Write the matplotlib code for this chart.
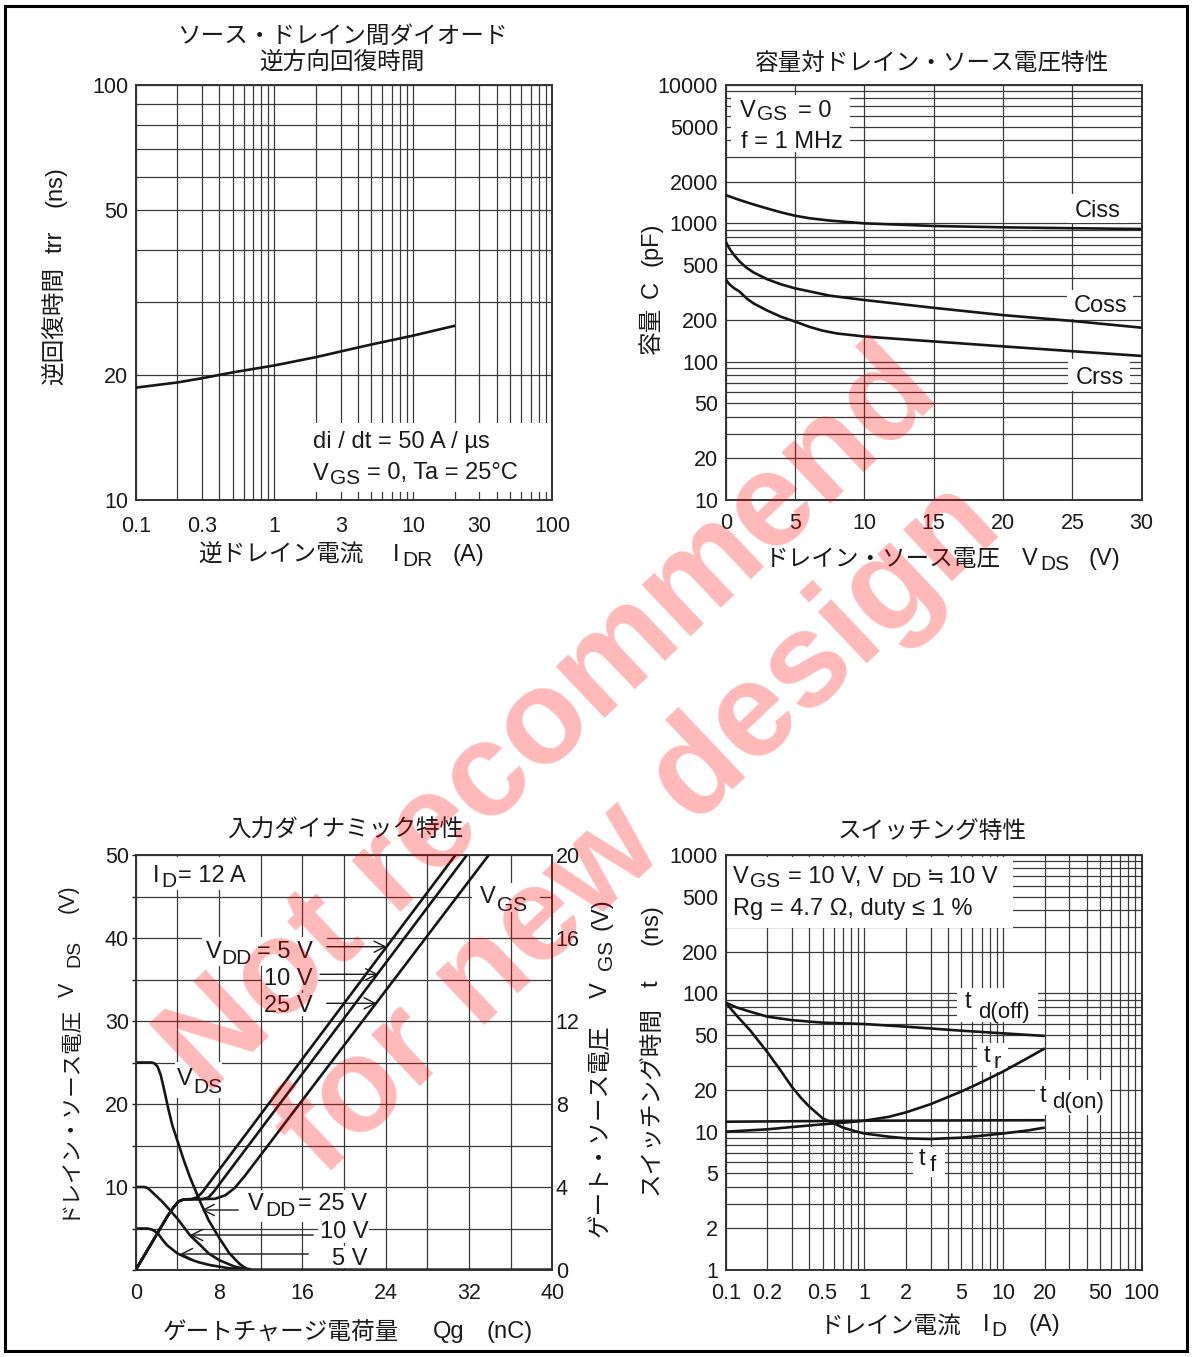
import numpy as np
import matplotlib
matplotlib.use('Agg')
import matplotlib.pyplot as plt
from matplotlib.patches import Rectangle
from matplotlib.ticker import NullFormatter

W, H = 1192, 1357
LAT = ['Liberation Sans', 'Noto Sans CJK JP', 'DejaVu Sans']
JP = ['Noto Sans CJK JP', 'DejaVu Sans']
plt.rcParams['font.family'] = LAT

# ---------------- data ----------------
# (1) reverse recovery time vs reverse drain current
idr = [0.1, 0.2, 0.3, 0.5, 1, 2, 3, 5, 10, 20]
trr = [18.65, 19.2, 19.65, 20.3, 21.1, 22.1, 22.8, 23.7, 24.9, 26.3]
p1_xticks = [0.1, 0.3, 1, 3, 10, 30, 100]
p1_xlabels = ['0.1', '0.3', '1', '3', '10', '30', '100']
p1_yticks = [10, 20, 50, 100]
p1_ylabels = ['10', '20', '50', '100']
p1_ygrid = [30, 40, 60, 70, 80, 90]

# (2) capacitance vs drain-source voltage
v_ciss = [0, 1, 2, 3, 4, 5, 6, 7.5, 10, 15, 20, 25, 30]
ciss = [1600, 1475, 1370, 1280, 1200, 1135, 1090, 1047, 1000, 957, 936, 922, 910]
v_coss = [0, 0.15, 0.3, 0.6, 1, 1.5, 2, 3, 4, 5, 7.5, 10, 15, 20, 25, 30]
coss = [740, 690, 650, 590, 530, 478, 442, 394, 362, 339, 300, 279, 245, 217, 197, 176]
v_crss = [0, 0.15, 0.3, 0.6, 1, 1.5, 2, 3, 4, 5, 6, 7, 8, 9, 10, 15, 20, 25, 30]
crss = [395, 375, 360, 340, 321, 287, 264, 234, 211, 195, 179, 167.5, 160, 156, 152, 140, 129, 119, 110]
p2_xticks = [0, 5, 10, 15, 20, 25, 30]
p2_yticks = [10, 20, 50, 100, 200, 500, 1000, 2000, 5000, 10000]
p2_ylabels = ['10', '20', '50', '100', '200', '500', '1000', '2000', '5000', '10000']

# (3) dynamic input characteristics
qg_vgs5 = [0, 2, 3, 3.6, 4.1, 4.6, 5.4, 5.9, 6.4, 30.7]
vgs5 = [0, 1.7, 2.55, 3.0, 3.3, 3.4, 3.42, 3.5, 3.75, 20]
qg_vgs10 = [0, 2, 3, 3.6, 4.1, 4.6, 6.5, 7.0, 7.5, 31.8]
vgs10 = [0, 1.7, 2.55, 3.0, 3.3, 3.4, 3.42, 3.5, 3.78, 20]
qg_vgs25 = [0, 2, 3, 3.6, 4.1, 4.6, 7.6, 8.6, 9.5, 10.5, 33.9]
vgs25 = [0, 1.7, 2.55, 3.0, 3.3, 3.4, 3.43, 3.6, 3.95, 4.55, 20]
qg_vds25 = [0, 1.5, 1.8, 2.1, 2.4, 2.7, 3.1, 3.5, 4.0, 4.6, 5.2, 6.2, 7.0, 8.0, 9.0, 10.0, 10.6, 11.2, 40]
vds25 = [25, 25, 24.9, 24.5, 23.5, 21.9, 19.6, 17.5, 15.6, 13.3, 11.2, 8.2, 6.0, 3.9, 2.0, 0.7, 0.2, 0, 0]
qg_vds10 = [0, 0.8, 1.1, 1.4, 1.9, 2.5, 3.0, 4.0, 5.2, 6.2, 7.0, 8.0, 9.5, 11, 40]
vds10 = [10, 10, 9.9, 9.6, 9.0, 8.3, 7.6, 6.2, 4.2, 3.0, 2.0, 1.2, 0.4, 0, 0]
qg_vds5 = [0, 1.1, 1.5, 1.8, 2.2, 2.6, 3.0, 4.0, 5.2, 6.0, 7.1, 9.0, 11, 40]
vds5 = [5, 5, 4.9, 4.7, 4.3, 3.6, 3.0, 2.0, 1.3, 0.95, 0.6, 0.2, 0, 0]
p3_xticks = [0, 4, 8, 12, 16, 20, 24, 28, 32, 36, 40]
p3_xlabels = ['0', '', '8', '', '16', '', '24', '', '32', '', '40']
p3_yticks = [0, 5, 10, 15, 20, 25, 30, 35, 40, 45, 50]
p3_ylabels = ['', '', '10', '', '20', '', '30', '', '40', '', '50']
p3_y2ticks = [0, 4, 8, 12, 16, 20]
p3_y2labels = ['0', '4', '8', '12', '16', '20']

# (4) switching characteristics
id_off = [0.1, 0.12, 0.15, 0.2, 0.3, 0.5, 1, 2, 5, 10, 20]
td_off = [85.6, 79, 73.7, 67.8, 64, 61.4, 60, 57.4, 53.7, 51.4, 49.2]
id_tr = [0.1, 0.2, 0.3, 0.5, 0.7, 1, 1.5, 2, 3, 5, 7, 10, 15, 20]
t_r = [10, 10.4, 10.8, 11.3, 11.6, 12.0, 12.8, 13.8, 15.8, 19.5, 22.8, 27.2, 34, 40]
id_on = [0.1, 1, 20]
td_on = [11.8, 12, 12.1]
id_tf = [0.1, 0.12, 0.15, 0.2, 0.25, 0.3, 0.35, 0.4, 0.5, 0.6, 0.7, 0.85, 1,
         1.5, 2, 3, 5, 7, 10, 15, 20]
t_f = [85.6, 69, 54, 37.5, 27.5, 21.1, 17.5, 15.2, 12.5, 11.5, 10.7, 10.1, 9.7,
       9.2, 8.95, 8.85, 9.05, 9.35, 9.7, 10.2, 10.7]
p4_xticks = [0.1, 0.2, 0.5, 1, 2, 5, 10, 20, 50, 100]
p4_xlabels = ['0.1', '0.2', '0.5', '1', '2', '5', '10', '20', '50', '100']
p4_yticks = [1, 2, 5, 10, 20, 50, 100, 200, 500, 1000]
p4_ylabels = ['1', '2', '5', '10', '20', '50', '100', '200', '500', '1000']

# ---------------- figure ----------------
fig = plt.figure(figsize=(W / 100, H / 100), dpi=100)

def rect(x0, y0, x1, y1):
    return [x0 / W, 1 - y1 / H, (x1 - x0) / W, (y1 - y0) / H]

def logminor(d0, d1):
    return [m * 10.0 ** e for e in range(d0, d1) for m in range(2, 10)]

TICK = 15.5
CURVE = dict(color='#161616', lw=1.9, solid_capstyle='butt',
             solid_joinstyle='round', zorder=3)

def style(ax):
    ax.set_axisbelow(True)
    ax.grid(True, which='both', color='#3a3a3a', lw=0.9)
    for s in ax.spines.values():
        s.set_color('#333333')
        s.set_linewidth(1.4)
    ax.tick_params(which='both', length=0, labelsize=TICK, colors='#1a1a1a')

def whitebox(ax, x0, y0, x1, y1):
    ax.add_patch(Rectangle((x0 / W, 1 - y1 / H), (x1 - x0) / W, (y1 - y0) / H,
                           transform=fig.transFigure, facecolor='white',
                           edgecolor='none', zorder=1.2, clip_on=False))

def put(x, y, s, size=17, fam=LAT, rot=0):
    fig.text(x / W, 1 - y / H, s, fontsize=size, family=fam, ha='left',
             va='baseline', rotation=rot, rotation_mode='anchor',
             color='#1a1a1a', zorder=5)

def ctext(x, y, s, size=17, fam=JP):
    fig.text(x / W, 1 - y / H, s, fontsize=size, family=fam, ha='center',
             va='center', color='#1a1a1a', zorder=5)

# ---- panel 1 ----
ax1 = fig.add_axes(rect(135.7, 85, 552, 500))
ax1.set_xscale('log'); ax1.set_yscale('log')
ax1.set_xlim(0.1, 100); ax1.set_ylim(10, 100)
ax1.set_xticks(p1_xticks, p1_xlabels)
ax1.set_xticks(logminor(-1, 2), minor=True)
ax1.set_yticks(p1_yticks, p1_ylabels)
ax1.set_yticks(p1_ygrid, minor=True)
ax1.xaxis.set_minor_formatter(NullFormatter()); ax1.yaxis.set_minor_formatter(NullFormatter())
style(ax1)
ax1.tick_params(axis='x', pad=11.5)
ax1.tick_params(axis='y', pad=5.5)
ax1.plot(idr, trr, **CURVE)
whitebox(ax1, 313, 423, 548, 492)

ctext(342, 36, 'ソース・ドレイン間ダイオード')
ctext(342, 62, '逆方向回復時間')
put(198, 562, '逆ドレイン電流', fam=JP)
put(393, 561, 'I'); put(402, 566, 'DR', 15); put(453, 561, '(A)')
put(62, 385, '逆回復時間', fam=JP, rot=90)
put(62, 253, 'trr', rot=90); put(62, 207, '(ns)', rot=90)
put(313, 448, 'di / dt = 50 A / µs')
put(313, 479.5, 'V'); put(330, 484.5, 'GS', 15); put(367, 479.5, '= 0, Ta = 25°C')

# ---- panel 2 ----
ax2 = fig.add_axes(rect(725.7, 85, 1141.7, 500))
ax2.set_yscale('log')
ax2.set_xlim(0, 30); ax2.set_ylim(10, 10000)
ax2.set_xticks(p2_xticks, [str(v) for v in p2_xticks])
ax2.set_yticks(p2_yticks, p2_ylabels)
ax2.set_yticks(logminor(1, 4), minor=True)
ax2.yaxis.set_minor_formatter(NullFormatter())
style(ax2)
ax2.tick_params(axis='x', pad=9.5)
ax2.tick_params(axis='y', pad=5.5)
ax2.plot(v_ciss, ciss, **CURVE)
ax2.plot(v_coss, coss, **CURVE)
ax2.plot(v_crss, crss, **CURVE)
whitebox(ax2, 731, 95, 850, 152)
whitebox(ax2, 1068, 194, 1128, 223)
whitebox(ax2, 1067, 290, 1133, 319)
whitebox(ax2, 1068, 359, 1130, 391)

ctext(932, 63, '容量対ドレイン・ソース電圧特性')
put(765, 566, 'ドレイン・ソース電圧', fam=JP)
put(1022, 565, 'V'); put(1040, 569.5, 'DS', 15); put(1088, 565, '(V)')
put(658, 354, '容量', fam=JP, rot=90)
put(658, 298, 'C', rot=90); put(658, 266, '(pF)', rot=90)
put(740, 116.7, 'V'); put(757, 120.5, 'GS', 15); put(798, 116.7, '= 0')
put(740.7, 148.3, 'f = 1 MHz')
put(1075, 216.7, 'Ciss'); put(1074, 311.7, 'Coss'); put(1075.7, 384, 'Crss')

# ---- panel 3 ----
ax3 = fig.add_axes(rect(135.7, 855, 552.3, 1270))
ax3.set_xlim(0, 40); ax3.set_ylim(0, 50)
ax3.set_xticks(p3_xticks, p3_xlabels)
ax3.set_yticks(p3_yticks, p3_ylabels)
style(ax3)
ax3.tick_params(axis='x', pad=9.5)
ax3.tick_params(axis='y', pad=2.0, length=3, direction='out', width=1.0)
ax3.plot(qg_vds25, vds25, **CURVE)
ax3.plot(qg_vds10, vds10, **CURVE)
ax3.plot(qg_vds5, vds5, **CURVE)
ax3b = ax3.twinx()
ax3b.set_ylim(0, 20)
ax3b.set_yticks(p3_y2ticks, p3_y2labels)
ax3b.tick_params(length=0, labelsize=TICK, colors='#1a1a1a', pad=2.5)
for s in ax3b.spines.values():
    s.set_color('#333333'); s.set_linewidth(1.4)
ax3b.plot(qg_vgs5, vgs5, **CURVE)
ax3b.plot(qg_vgs10, vgs10, **CURVE)
ax3b.plot(qg_vgs25, vgs25, **CURVE)
for b in [(138, 857, 248, 890), (472, 883, 540, 912), (202, 937, 327, 966),
          (262, 966, 318, 990), (262, 993, 320, 1016), (175, 1062, 222, 1098),
          (245, 1190, 368, 1222), (318, 1222, 369, 1243), (329, 1246, 369, 1268)]:
    whitebox(ax3, *b)

def arrow(ax, x0, y0, x1, y1):
    ax.annotate('', xy=(x1 / W, 1 - y1 / H), xytext=(x0 / W, 1 - y0 / H),
                xycoords='figure fraction', textcoords='figure fraction',
                arrowprops=dict(arrowstyle='->', lw=1.0, color='#1a1a1a',
                                shrinkA=0, shrinkB=0, mutation_scale=20),
                zorder=4)

arrow(ax3b, 327, 946.7, 386.7, 946.7)
arrow(ax3b, 320, 974.3, 378.3, 974.3)
arrow(ax3b, 326.7, 1003.3, 376.7, 1003.3)
arrow(ax3b, 238.3, 1210, 201.7, 1210)
arrow(ax3b, 313.3, 1235, 190, 1235)
arrow(ax3b, 308.3, 1254, 180, 1254)

ctext(345, 830, '入力ダイナミック特性')
put(163, 1340, 'ゲートチャージ電荷量', fam=JP)
put(433, 1338, 'Qg'); put(487, 1338, '(nC)')
put(74, 1219, 'ドレイン・ソース電圧', size=15.5, fam=JP, rot=90)
put(74, 997, 'V', size=15.5, rot=90); put(79, 967, 'DS', size=14, rot=90)
put(74, 913, '(V)', size=15.5, rot=90)
put(607, 1237, 'ゲート・ソース電圧', fam=JP, rot=90)
put(607, 998, 'V', rot=90); put(612, 970, 'GS', 15, rot=90); put(607, 930, '(V)', rot=90)
put(152.7, 881.7, 'I'); put(161.7, 886.7, 'D', 15); put(178, 881.7, '= 12 A')
put(480, 903.3, 'V'); put(496.7, 910.7, 'GS', 15)
put(206, 958.3, 'V'); put(221.7, 964, 'DD', 15); put(256.7, 958.3, '= 5 V')
put(264.3, 985, '10 V'); put(264.3, 1011.7, '25 V')
put(177.3, 1085, 'V'); put(193.3, 1092.7, 'DS', 15)
put(248.3, 1210, 'V'); put(265, 1216, 'DD', 15); put(298.3, 1210, '= 25 V')
put(320, 1238.3, '10 V'); put(331.7, 1264.7, '5 V')

# ---- panel 4 ----
ax4 = fig.add_axes(rect(725.7, 855, 1141.7, 1270))
ax4.set_xscale('log'); ax4.set_yscale('log')
ax4.set_xlim(0.1, 100); ax4.set_ylim(1, 1000)
ax4.set_xticks(p4_xticks, p4_xlabels)
ax4.set_xticks(logminor(-1, 2), minor=True)
ax4.set_yticks(p4_yticks, p4_ylabels)
ax4.set_yticks(logminor(0, 3), minor=True)
ax4.xaxis.set_minor_formatter(NullFormatter()); ax4.yaxis.set_minor_formatter(NullFormatter())
style(ax4)
ax4.tick_params(axis='x', pad=9.5)
ax4.tick_params(axis='y', pad=5.5)
ax4.plot(id_off, td_off, **CURVE)
ax4.plot(id_tr, t_r, **CURVE)
ax4.plot(id_on, td_on, **CURVE)
ax4.plot(id_tf, t_f, **CURVE)
for b in [(727, 857, 1013, 928), (957, 988, 1038, 1022), (977, 1043, 1008, 1072),
          (1035, 1080, 1110, 1115), (913, 1147, 945, 1177)]:
    whitebox(ax4, *b)

ctext(932, 831, 'スイッチング特性')
put(820, 1333, 'ドレイン電流', fam=JP)
put(983, 1331, 'I'); put(991, 1336, 'D', 15); put(1028, 1331, '(A)')
put(658, 1195, 'スイッチング時間', fam=JP, rot=90)
put(658, 987, 't', rot=90); put(658, 945, '(ns)', rot=90)
put(733.3, 883.3, 'V'); put(750, 887, 'GS', 15); put(788.3, 883.3, '= 10 V, V')
put(891.7, 887, 'DD', 15); put(927, 883.3, '≒', 15, fam=JP); put(949, 883.3, '10 V')
put(733.3, 915, 'Rg = 4.7 Ω, duty ≤ 1 %')
put(965, 1008.3, 't'); put(978.3, 1017.7, 'd(off)', 16)
put(983.3, 1061.7, 't'); put(993.3, 1068, 'r', 16)
put(1040, 1101.7, 't'); put(1051.7, 1108, 'd(on)', 16)
put(918.3, 1165, 't'); put(929.3, 1171, 'f', 16)

# ---- watermark ----
for (cx, cy, s) in [(550, 722, 'Not recommend'), (640, 830, 'for new design')]:
    fig.text(cx / W, 1 - cy / H, s, fontsize=96, fontweight='bold',
             family=['Liberation Sans'], color='red', alpha=0.28,
             rotation=43.5, rotation_mode='anchor', ha='center', va='center',
             zorder=10)

# ---- border ----
fig.add_artist(Rectangle((5 / W, 1 - 1351 / H), 1182 / W, 1345 / H,
                         transform=fig.transFigure, fill=False,
                         edgecolor='black', lw=2.2, zorder=20))

fig.savefig('out.png', dpi=100)
